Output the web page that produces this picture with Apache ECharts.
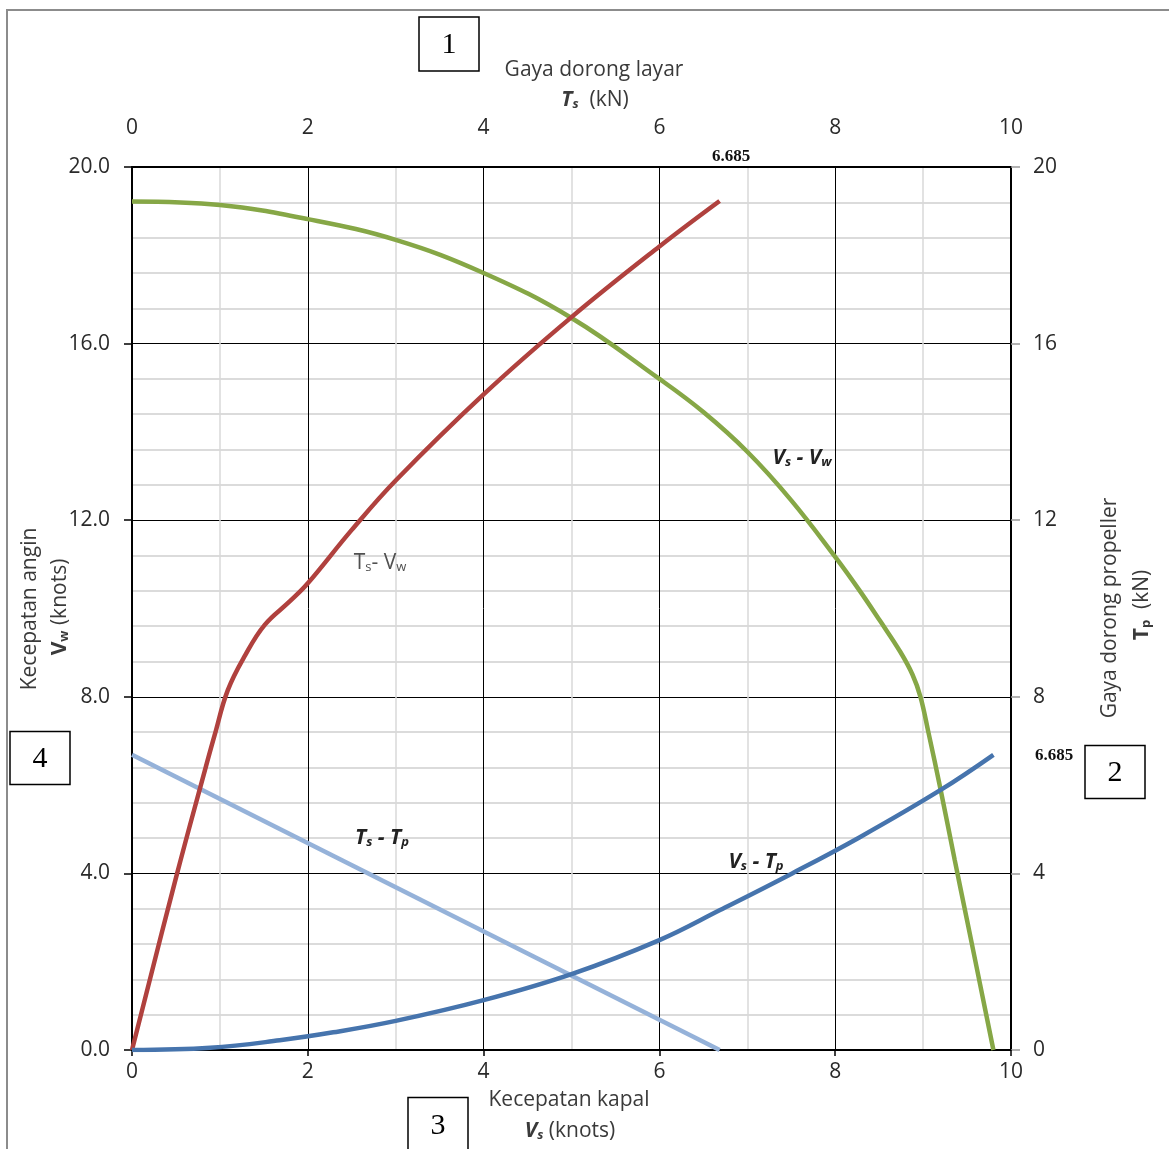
<!DOCTYPE html>
<html>
<head>
<meta charset="utf-8">
<script src="https://cdn.jsdelivr.net/npm/echarts@6/dist/echarts.min.js"></script>
<style>
html,body{margin:0;padding:0;background:#fff;}
#chart{width:1169px;height:1149px;}
</style>
</head>
<body>
<div id="chart"></div>
<script>
// ---- Data ----
// Vs - Vw (green): ship speed vs wind speed
var vsGreen = [0, 1, 2, 3, 4, 5, 6, 6.5, 7, 7.5, 8, 8.28, 8.51, 8.74, 8.88, 8.97, 9.06, 9.2, 9.36, 9.5, 9.65, 9.8];
var vwGreen = [19.22, 19.14, 18.82, 18.35, 17.6, 16.58, 15.2, 14.45, 13.55, 12.45, 11.17, 10.4, 9.72, 9.02, 8.5, 8.0, 7.2, 5.89, 4.3, 2.94, 1.47, 0];
// Ts - Vw (red): sail thrust vs wind speed
var tsRed = [0, 0.5, 0.83, 0.94, 1.09, 1.29, 1.51, 1.8, 2.0, 2.5, 3.0, 4.0, 5.0, 6.0, 6.685];
var vwRed = [0, 3.9, 6.34, 7.13, 8.15, 8.95, 9.63, 10.17, 10.57, 11.78, 12.9, 14.85, 16.6, 18.2, 19.23];
// Vs - Tp (dark blue): ship speed vs propeller thrust
var vsBlue = [0, 0.89, 1.68, 2.29, 3, 4, 5, 6, 6.69, 7.51, 8.28, 9.2, 9.8];
var tpBlue = [0, 0.05, 0.22, 0.4, 0.66, 1.13, 1.72, 2.49, 3.17, 4.0, 4.82, 5.89, 6.685];
// Ts - Tp (light blue): sail thrust vs propeller thrust
var tsLight = [0, 6.685];
var tpLight = [6.685, 0];

function pairs(xs, ys) { return xs.map(function (x, i) { return [x, ys[i]]; }); }

var FONT = '"Open Sans", "Noto Sans", sans-serif';
var TXT = '#3a3a3a';

var chart = echarts.init(document.getElementById('chart'));

function baseAxis(extra) {
  var a = {
    type: 'value',
    axisLine: { show: true, onZero: false, lineStyle: { color: '#000', width: 2 } },
    axisLabel: { color: '#2a2a2a', fontSize: 21, fontFamily: FONT },
    splitLine: { show: false },
    minorSplitLine: { show: false },
    axisTick: { show: false }
  };
  for (var k in extra) a[k] = extra[k];
  return a;
}

function txt(x, y, text, opts) {
  opts = opts || {};
  return {
    type: 'text', x: x, y: y, rotation: opts.rotation || 0, z: 100,
    style: {
      text: text, fill: opts.fill || TXT,
      font: opts.font || ('21px ' + FONT),
      textAlign: opts.align || 'center', textVerticalAlign: 'middle',
      rich: opts.rich
    }
  };
}

function richStyles(size, weight, style, fill) {
  return {
    n: { fontSize: size, fontFamily: FONT, fontWeight: weight, fontStyle: style, fill: fill || TXT },
    s: { fontSize: Math.round(size * 0.62), fontFamily: FONT, fontWeight: weight, fontStyle: style, fill: fill || TXT, padding: [Math.round(size * 0.45), 0, 0, 0] },
    r: { fontSize: size, fontFamily: FONT, fontWeight: 'normal', fontStyle: 'normal', fill: fill || TXT }
  };
}

function box(cx, cy, label, w, h) {
  return [
    { type: 'rect', z: 100, shape: { x: cx - w / 2, y: cy - h / 2, width: w, height: h },
      style: { fill: '#fff', stroke: '#000', lineWidth: 1.5 } },
    txt(cx, cy + 1, label, { font: '30px "Liberation Serif", serif', fill: '#000' })
  ];
}

var graphics = [
  { type: 'rect', z: 0, shape: { x: 7, y: 10, width: 1300, height: 1300 },
    style: { fill: 'none', stroke: '#8c8c8c', lineWidth: 2 } },
  // top axis title
  txt(594, 70, 'Gaya dorong layar'),
  txt(595, 100, '{n|T}{s|s}{r|  (kN)}', { rich: richStyles(21, 'bold', 'italic') }),
  // bottom axis title
  txt(569, 1100, 'Kecepatan kapal'),
  txt(570, 1131, '{n|V}{s|s}{r| (knots)}', { rich: richStyles(21, 'bold', 'italic') }),
  // left axis title
  txt(30, 609, 'Kecepatan angin', { rotation: Math.PI / 2 }),
  txt(60, 607, '{n|V}{s|w}{r| (knots)}', { rotation: Math.PI / 2, rich: richStyles(21, 'bold', 'normal') }),
  // right axis title
  txt(1110, 608, 'Gaya dorong propeller', { rotation: Math.PI / 2 }),
  txt(1142, 605, '{n|T}{s|p}{r|  (kN)}', { rotation: Math.PI / 2, rich: richStyles(21, 'bold', 'normal') }),
  // curve labels
  txt(380, 563, '{r|T}{s|s}{r|- V}{s|w}', { rich: richStyles(21, 'normal', 'normal', '#505050') }),
  txt(382, 838, '{n|T}{s|s}{n| - T}{s|p}', { rich: richStyles(21, 'bold', 'italic', '#222') }),
  txt(802, 458, '{n|V}{s|s}{n| - V}{s|w}', { rich: richStyles(21, 'bold', 'italic', '#222') }),
  txt(756, 862, '{n|V}{s|s}{n| - T}{s|p}', { rich: richStyles(21, 'bold', 'italic', '#222') }),
  // 6.685 annotations
  txt(731, 157, '6.685', { font: 'bold 17px "Liberation Serif", serif', fill: '#111' }),
  txt(1054, 756, '6.685', { font: 'bold 17px "Liberation Serif", serif', fill: '#111' })
].concat(box(449, 44, '1', 60, 54), box(1115, 772, '2', 60, 53), box(438, 1125, '3', 60, 55), box(40, 758, '4', 60, 53));

var option = {
  backgroundColor: '#fff',
  animation: false,
  grid: { left: 132, right: 158, top: 167, bottom: 99, containLabel: false },
  xAxis: [
    baseAxis({
      min: 0, max: 10, interval: 2, position: 'bottom',
      axisTick: { show: true, length: 6, lineStyle: { color: '#000', width: 1.5 } },
      axisLabel: { color: '#2a2a2a', fontSize: 21, fontFamily: FONT, margin: 12 },
      splitLine: { show: true, lineStyle: { color: '#000', width: 1 } },
      minorTick: { show: false, splitNumber: 2 },
      minorSplitLine: { show: true, lineStyle: { color: '#d9d9d9', width: 1.5 } }
    }),
    baseAxis({
      min: 0, max: 10, interval: 2, position: 'top',
      axisLabel: { color: '#2a2a2a', fontSize: 21, fontFamily: FONT, margin: 28 }
    })
  ],
  yAxis: [
    baseAxis({
      min: 0, max: 20, interval: 4, position: 'left',
      axisTick: { show: true, length: 8, lineStyle: { color: '#000', width: 1.5 } },
      axisLabel: { color: '#2a2a2a', fontSize: 21, fontFamily: FONT, margin: 22,
        formatter: function (v) { return v.toFixed(1); } },
      splitLine: { show: true, lineStyle: { color: '#000', width: 1 } },
      minorTick: { show: false, splitNumber: 5 },
      minorSplitLine: { show: true, lineStyle: { color: '#d0d0d0', width: 1.5 } }
    }),
    baseAxis({
      min: 0, max: 20, interval: 4, position: 'right',
      axisTick: { show: true, length: 9, lineStyle: { color: '#999', width: 1.5 } },
      axisLabel: { color: '#2a2a2a', fontSize: 21, fontFamily: FONT, margin: 22 }
    })
  ],
  series: [
    { name: 'Vs - Vw', type: 'line', xAxisIndex: 0, yAxisIndex: 0, data: pairs(vsGreen, vwGreen),
      smooth: 0.4, symbol: 'none', lineStyle: { color: '#86a746', width: 4.5 }, z: 5 },
    { name: 'Ts - Vw', type: 'line', xAxisIndex: 1, yAxisIndex: 0, data: pairs(tsRed, vwRed),
      smooth: 0.4, symbol: 'none', lineStyle: { color: '#b0413e', width: 4.5 }, z: 5 },
    { name: 'Vs - Tp', type: 'line', xAxisIndex: 0, yAxisIndex: 1, data: pairs(vsBlue, tpBlue),
      smooth: 0.4, symbol: 'none', lineStyle: { color: '#4674ad', width: 4.5 }, z: 5 },
    { name: 'Ts - Tp', type: 'line', xAxisIndex: 1, yAxisIndex: 1, data: pairs(tsLight, tpLight),
      smooth: false, symbol: 'none', lineStyle: { color: '#95b2d9', width: 4.5 }, z: 4 }
  ],
  graphic: graphics
};
chart.setOption(option);
</script>
</body>
</html>
